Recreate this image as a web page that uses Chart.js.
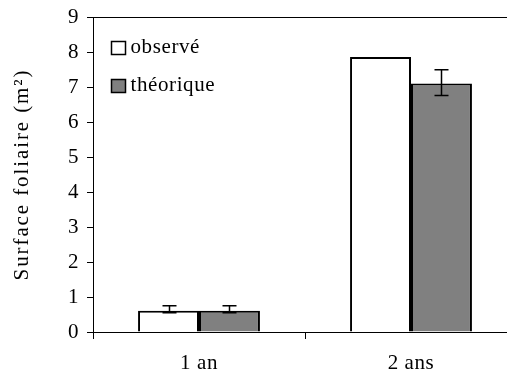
<!DOCTYPE html>
<html>
<head>
<meta charset="utf-8">
<script src="https://cdn.jsdelivr.net/npm/chart.js@4"></script>
<style>
html,body{margin:0;padding:0;background:#fff;overflow:hidden;}
#wrap{width:540px;height:376px;}
</style>
</head>
<body>
<div id="wrap"><canvas id="c" width="540" height="376"></canvas></div>
<script>
const categories = ['1 an', '2 ans'];
const seriesLabels = ['observé', 'théorique'];
const observed = [0.61, 7.86];
const theoretical = [0.61, 7.10];
const observedErrLow = [0.55, null];
const observedErrHigh = [0.75, null];
const theoreticalErrLow = [0.55, 6.76];
const theoreticalErrHigh = [0.75, 7.49];
const yTicks = [0, 1, 2, 3, 4, 5, 6, 7, 8, 9];

const FONT = "'Liberation Serif', 'Times New Roman', serif";

const errorBarPlugin = {
  id: 'errorBars',
  afterDatasetsDraw(chart) {
    const ctx = chart.ctx;
    const y = chart.scales.y;
    const errs = [[observedErrLow, observedErrHigh], [theoreticalErrLow, theoreticalErrHigh]];
    ctx.save();
    ctx.strokeStyle = '#000';
    ctx.lineWidth = 1.5;
    errs.forEach((pair, di) => {
      const meta = chart.getDatasetMeta(di);
      meta.data.forEach((bar, i) => {
        const lo = pair[0][i], hi = pair[1][i];
        if (lo == null || hi == null) return;
        const x = Math.round(bar.x) + 0.5;
        const yl = y.getPixelForValue(lo), yh = y.getPixelForValue(hi);
        const cw = 7;
        ctx.beginPath();
        ctx.moveTo(x, yl); ctx.lineTo(x, yh);
        ctx.moveTo(x - cw, yl); ctx.lineTo(x + cw, yl);
        ctx.moveTo(x - cw, yh); ctx.lineTo(x + cw, yh);
        ctx.stroke();
      });
    });
    ctx.restore();
  }
};

const framePlugin = {
  id: 'frame',
  beforeDraw(chart) {
    const s = chart.scales.y;
    if (s && !s._patched) {
      const orig = s.drawTitle.bind(s);
      s.drawTitle = function () {
        const c = this.ctx;
        const prev = c.letterSpacing;
        c.letterSpacing = '1.9px';
        orig();
        c.letterSpacing = prev || '0px';
      };
      s._patched = true;
    }
    chart.ctx.letterSpacing = '0.6px';
  },
  afterDraw(chart) {
    const ctx = chart.ctx;
    const a = chart.chartArea;
    ctx.save();
    ctx.strokeStyle = '#000';
    ctx.lineWidth = 1;
    ctx.beginPath();
    ctx.moveTo(a.left, Math.round(a.top) + 0.5);
    ctx.lineTo(a.right, Math.round(a.top) + 0.5);
    ctx.stroke();
    // legend
    const items = chart.data.datasets;
    ctx.font = "21px " + FONT;
    ctx.textBaseline = 'middle';
    ctx.textAlign = 'left';
    items.forEach((ds, i) => {
      const bx = a.left + 18.5, by = a.top + 24.5 + i * 38;
      ctx.fillStyle = ds.backgroundColor;
      ctx.fillRect(bx, by, 14, 13);
      ctx.lineWidth = 1.5;
      ctx.strokeRect(bx, by, 14, 13);
      ctx.fillStyle = '#000';
      ctx.fillText(ds.label, bx + 19, by + 6);
    });
    ctx.restore();
    chart.ctx.letterSpacing = '0px';
  }
};

new Chart(document.getElementById('c'), {
  type: 'bar',
  data: {
    labels: categories,
    datasets: [
      { label: seriesLabels[0], data: observed, backgroundColor: '#ffffff', borderColor: '#000', borderWidth: 2 },
      { label: seriesLabels[1], data: theoretical, backgroundColor: '#808080', borderColor: '#000', borderWidth: 2 }
    ]
  },
  options: {
    responsive: false,
    animation: false,
    events: [],
    layout: { padding: { top: 17, right: 23, left: 0, bottom: 0 } },
    datasets: { bar: { categoryPercentage: 0.575, barPercentage: 1.0 } },
    plugins: { legend: { display: false }, tooltip: { enabled: false } },
    scales: {
      x: {
        offset: true,
        grid: { display: true, drawOnChartArea: false, drawTicks: true, tickLength: 7, color: '#000', offset: true },
        border: { display: true, color: '#000', width: 1 },
        ticks: { color: '#000', font: { family: FONT, size: 21 }, padding: 12 },
        afterFit(s) { s.height = 44; }
      },
      y: {
        min: 0, max: 9,
        afterBuildTicks(s) { s.ticks = yTicks.map(v => ({ value: v })); },
        grid: { display: true, drawOnChartArea: false, drawTicks: true, tickLength: 6, color: '#000' },
        border: { display: true, color: '#000', width: 1 },
        ticks: { color: '#000', font: { family: FONT, size: 21, lineHeight: 0.8 }, padding: 8 },
        title: { display: true, text: 'Surface foliaire (m²)', color: '#000', font: { family: FONT, size: 21 }, padding: { top: 10, bottom: 0 } },
        afterFit(s) { s.width = 93; }
      }
    }
  },
  plugins: [errorBarPlugin, framePlugin]
});
</script>
</body>
</html>
